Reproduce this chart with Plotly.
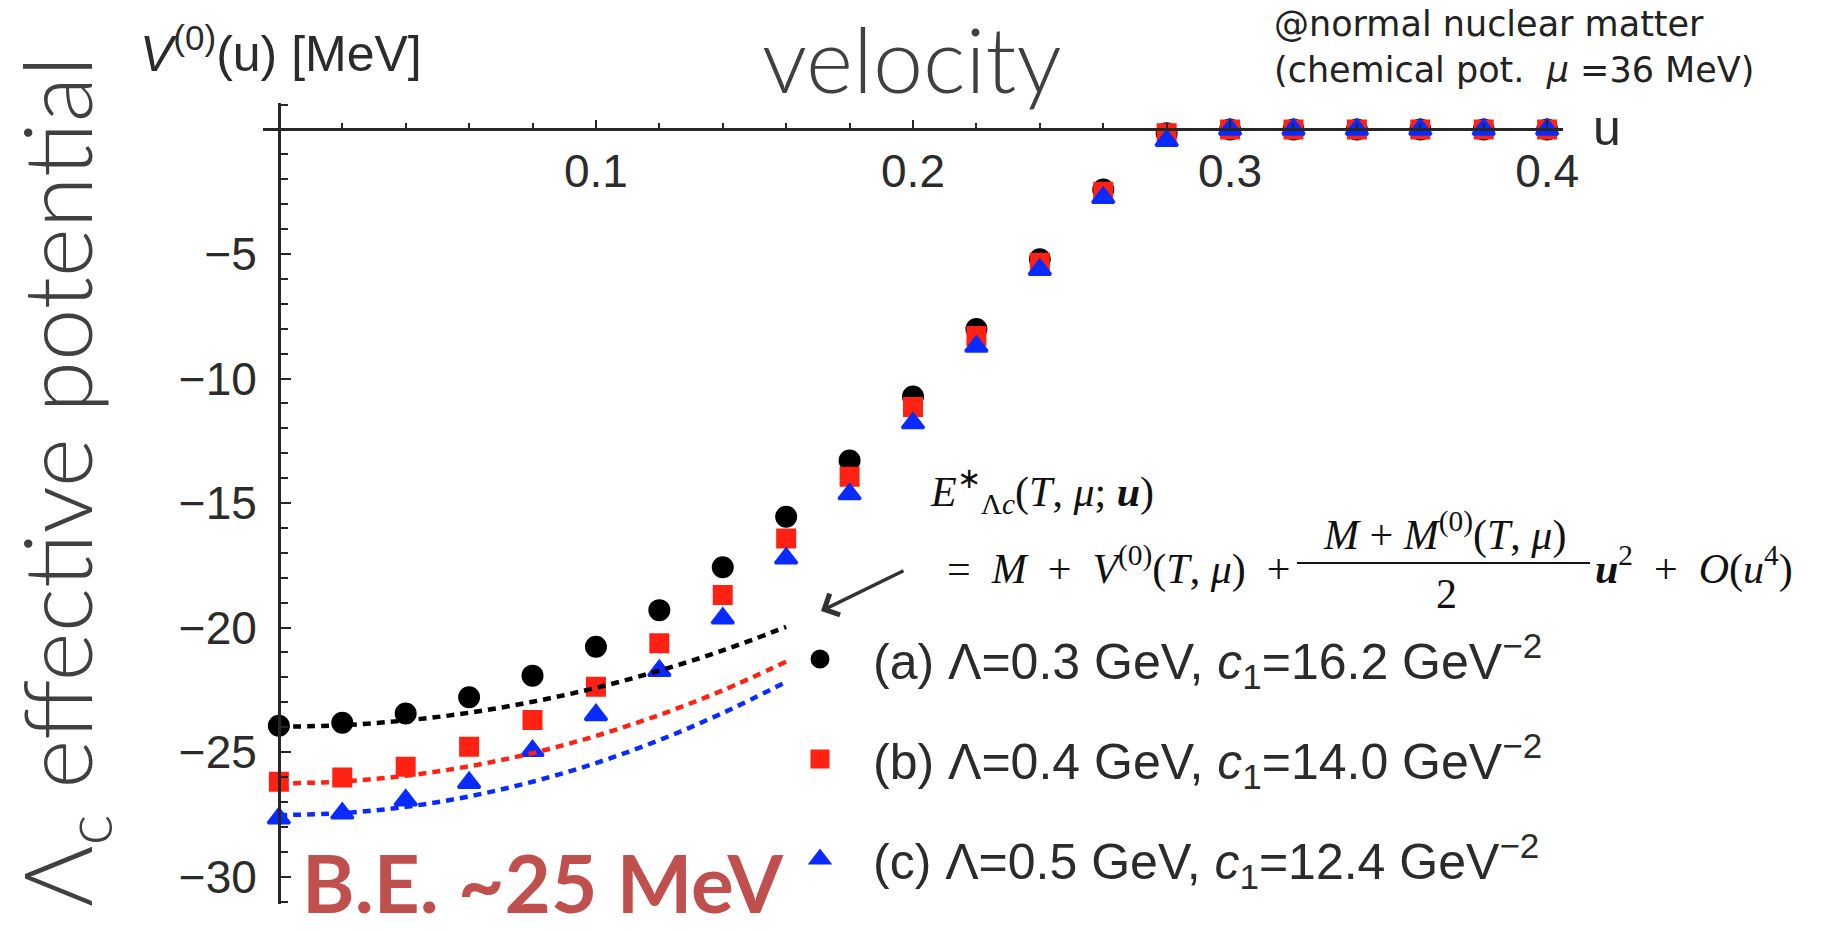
import plotly.graph_objects as go

# ---------------- data ----------------
u_vals = [0.00, 0.02, 0.04, 0.06, 0.08, 0.10, 0.12, 0.14, 0.16, 0.18, 0.20,
          0.22, 0.24, 0.26, 0.28, 0.30, 0.32, 0.34, 0.36, 0.38, 0.40]
V_a = [-23.94, -23.82, -23.45, -22.80, -21.93, -20.77, -19.30, -17.58, -15.55, -13.29, -10.72,
       -8.01, -5.21, -2.41, -0.15, 0.0, 0.0, 0.0, 0.0, 0.0, 0.0]
V_b = [-26.19, -26.02, -25.59, -24.79, -23.71, -22.38, -20.63, -18.69, -16.42, -13.94, -11.14,
       -8.29, -5.35, -2.50, -0.15, 0.0, 0.0, 0.0, 0.0, 0.0, 0.0]
V_c = [-27.66, -27.46, -26.93, -26.23, -24.95, -23.51, -21.73, -19.63, -17.22, -14.64, -11.79,
       -8.71, -5.63, -2.74, -0.45, 0.0, 0.0, 0.0, 0.0, 0.0, 0.0]

u_fit = [0.00, 0.02, 0.04, 0.06, 0.08, 0.10, 0.12, 0.14, 0.16]
fit_a = [-23.98, -23.92, -23.73, -23.42, -22.98, -22.42, -21.73, -20.92, -19.97]
fit_b = [-26.26, -26.18, -25.95, -25.57, -25.04, -24.35, -23.51, -22.52, -21.37]
fit_c = [-27.53, -27.45, -27.20, -26.78, -26.19, -25.44, -24.52, -23.43, -22.18]

series_names = ["(a) Λ=0.3 GeV, <i>c</i><sub>1</sub>=16.2 GeV<sup>−2</sup>",
                "(b) Λ=0.4 GeV, <i>c</i><sub>1</sub>=14.0 GeV<sup>−2</sup>",
                "(c) Λ=0.5 GeV, <i>c</i><sub>1</sub>=12.4 GeV<sup>−2</sup>"]

x_tickvals = [0.1, 0.2, 0.3, 0.4]
x_ticktext = ["0.1", "0.2", "0.3", "0.4"]
y_tickvals = [-5, -10, -15, -20, -25, -30]
y_ticktext = ["−5", "−10", "−15", "−20", "−25", "−30"]

# ---------------- geometry / style ----------------
FIG_W, FIG_H = 1823, 931
ML, MT, MR, MB = 263, 103, 260, 27
PW = FIG_W - ML - MR
PH = FIG_H - MT - MB
X_RANGE = [-0.005, 0.405]
Y_RANGE = [-31.10, 1.064]


def px(x):
    return (x - ML) / PW


def py(y):
    return 1 - (y - MT) / PH


colors = ["#000000", "#FF2212", "#0A2BFF"]
symbols = ["circle", "square", "triangle-up"]
msizes = [19, 17, 19]
MLW = 3
AX = "#262626"
TXT = "#2b2b2b"
GRAYTXT = "#404040"
SANS = "Liberation Sans, Arial, sans-serif"
GOTH = "Lato, sans-serif"

fig = go.Figure()

for V, col, sym, ms, name, g in zip([V_a, V_b, V_c], colors, symbols, msizes,
                                    series_names, ["a", "b", "c"]):
    fig.add_trace(go.Scatter(x=u_vals, y=V, mode="markers", name=name,
                             legendgroup=g,
                             marker=dict(color=col, symbol=sym, size=ms,
                                         line=dict(width=MLW, color=col)),
                             cliponaxis=False))

for F, col in zip([fit_a, fit_b, fit_c], colors):
    fig.add_trace(go.Scatter(x=u_fit, y=F, mode="lines", showlegend=False,
                             line=dict(color=col, width=4.5, dash="8px,6px", shape="spline")))

x_pos = (0 - Y_RANGE[0]) / (Y_RANGE[1] - Y_RANGE[0])
y_pos = (0 - X_RANGE[0]) / (X_RANGE[1] - X_RANGE[0])

tickfont = dict(family=SANS, size=46, color=TXT)

fig.update_layout(
    width=FIG_W, height=FIG_H,
    margin=dict(l=ML, r=MR, t=MT, b=MB, pad=0),
    paper_bgcolor="white", plot_bgcolor="white",
    xaxis=dict(range=X_RANGE, anchor="free", position=x_pos, showgrid=False,
               zeroline=False, showline=True, linecolor=AX, linewidth=2.5,
               tickmode="array", tickvals=x_tickvals, ticktext=x_ticktext,
               ticks="inside", ticklen=9, tickwidth=2, tickcolor=AX,
               ticklabelstandoff=1, tickfont=tickfont,
               minor=dict(tickmode="linear", tick0=0, dtick=0.02, ticks="inside",
                          ticklen=6, tickwidth=1.5, tickcolor=AX)),
    yaxis=dict(range=Y_RANGE, anchor="free", position=y_pos, showgrid=False,
               zeroline=False, showline=True, linecolor=AX, linewidth=2.5,
               tickmode="array", tickvals=y_tickvals, ticktext=y_ticktext,
               ticks="inside", ticklen=10, tickwidth=2, tickcolor=AX,
               ticklabelstandoff=12, tickfont=tickfont,
               minor=dict(tickmode="linear", tick0=0, dtick=1, ticks="inside",
                          ticklen=7, tickwidth=1.5, tickcolor=AX)),
    showlegend=True,
    legend=dict(x=px(767), y=py(620), xanchor="left", yanchor="top",
                bgcolor="rgba(0,0,0,0)", borderwidth=0,
                font=dict(family=SANS, size=50, color=TXT),
                traceorder="grouped", tracegroupgap=32, itemwidth=96),
)

ann = []
# y-axis label
ann.append(dict(text="<i>V</i><sup>(0)</sup>(u) [MeV]", x=px(138), y=py(50),
                xanchor="left", yanchor="middle",
                font=dict(family=SANS, size=50, color=TXT)))
# x-axis label
ann.append(dict(text="u", x=px(1591), y=py(128), xanchor="left", yanchor="middle",
                font=dict(family=SANS, size=50, color=TXT)))
# title
ann.append(dict(text="velocity", x=px(912), y=py(58), xanchor="center", yanchor="middle",
                font=dict(family=GOTH, size=90, color=GRAYTXT, weight=300)))
# condition text (two lines, one text block)
ann.append(dict(text="@normal nuclear matter<br>(chemical pot.  <i>μ</i> =36 MeV)",
                x=px(1272), y=py(47), xanchor="left", yanchor="middle", align="left",
                font=dict(family="DejaVu Sans, sans-serif", size=35, color="#222222")))
# vertical big label
ann.append(dict(text="Λ<sub>c</sub> effective potential", x=px(62), y=py(482),
                xanchor="center", yanchor="middle", textangle=-90,
                font=dict(family=GOTH, size=94, color=GRAYTXT, weight=300)))
# binding energy
ann.append(dict(text="<b>B.E. ~25 MeV</b>", x=px(300), y=py(882), xanchor="left",
                yanchor="middle",
                font=dict(family=GOTH, size=80, color="#C0504D")))
# equation
EQF = dict(family="Liberation Serif, Times New Roman, serif", size=42, color="#111111")
SP = "\u2002"
ann.append(dict(text="<i>E</i><sup>∗</sup><sub>Λ<i>c</i></sub>(<i>T</i>, <i>μ</i>; <b><i>u</i></b>)",
                x=px(928), y=py(491), xanchor="left", yanchor="middle", font=EQF))
ann.append(dict(text="=" + SP + "<i>M</i>" + SP + "+" + SP + "<i>V</i><sup>(0)</sup>(<i>T</i>, <i>μ</i>)"
                + SP + "+",
                x=px(1292), y=py(566), xanchor="right", yanchor="middle", font=EQF))
ann.append(dict(text="<i>M</i> + <i>M</i><sup>(0)</sup>(<i>T</i>, <i>μ</i>)",
                x=px(1444), y=py(532), xanchor="center", yanchor="middle", font=EQF))
ann.append(dict(text="2", x=px(1446), y=py(594), xanchor="center", yanchor="middle", font=EQF))
ann.append(dict(text="<b><i>u</i></b><sup>2</sup>" + SP + "+" + SP + "<i>O</i>(<i>u</i><sup>4</sup>)",
                x=px(1593), y=py(566), xanchor="left", yanchor="middle", font=EQF))
# arrow
ann.append(dict(text="", x=px(821), y=py(611), xref="paper", yref="paper",
                showarrow=True, ax=84, ay=-41, arrowhead=4, arrowsize=1.3,
                arrowwidth=3.5, arrowcolor="#333333", standoff=0))

for a in ann:
    a.setdefault("xref", "paper")
    a.setdefault("yref", "paper")
    a.setdefault("showarrow", False)
fig.update_layout(annotations=ann)

fig.add_shape(type="line", xref="paper", yref="paper", x0=px(1297), x1=px(1590),
              y0=py(563), y1=py(563), line=dict(color="#111111", width=1.8))

fig.write_html("out.html")
